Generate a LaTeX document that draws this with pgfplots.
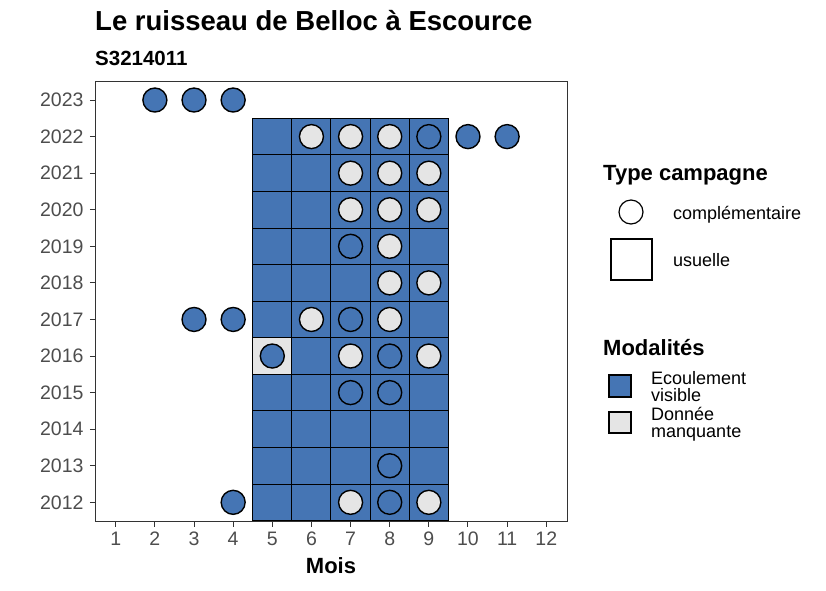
\documentclass[border=0pt]{standalone}
\usepackage{fontspec}
\setmainfont{Liberation Sans}
\usepackage{pgfplots}
\pgfplotsset{compat=1.18}
\definecolor{eblue}{HTML}{4575B4}
\definecolor{egrey}{HTML}{E5E5E5}
\definecolor{g20}{HTML}{333333}
\definecolor{g30}{HTML}{4D4D4D}
\begin{document}
\begin{tikzpicture}[x=1pt,y=1pt]
\path[use as bounding box] (0,0) rectangle (826,-590);
\begin{axis}[at={(95pt,-521.7pt)}, anchor=south west, scale only axis,
  width=472pt, height=440.7pt,
  xmin=0.47, xmax=12.53, ymin=2011.47, ymax=2023.52,
  xtick={1,...,12}, ytick={2012,...,2023},
  /pgf/number format/1000 sep={}, /pgf/number format/assume math mode=true,
  tick align=outside, tick pos=left, major tick length=5pt,
  tick style={g20, line width=1pt},
  axis line style={g20, line width=0.8pt},
  ticklabel style={font=\fontsize{19.5}{19.5}\selectfont, text=g30},
  xticklabel style={yshift=-2pt},
  yticklabel style={xshift=-3pt},
  clip=false]
% usual campaigns: Ecoulement visible
\addplot[only marks, mark=square*, mark size=19.575pt,
  mark options={yscale=0.934, fill=eblue, draw=black, line width=1pt}] table {
x y
5 2012
6 2012
7 2012
8 2012
9 2012
5 2013
6 2013
7 2013
8 2013
9 2013
5 2014
6 2014
7 2014
8 2014
9 2014
5 2015
6 2015
7 2015
8 2015
9 2015
6 2016
7 2016
8 2016
9 2016
5 2017
6 2017
7 2017
8 2017
9 2017
5 2018
6 2018
7 2018
8 2018
9 2018
5 2019
6 2019
7 2019
8 2019
9 2019
5 2020
6 2020
7 2020
8 2020
9 2020
5 2021
6 2021
7 2021
8 2021
9 2021
5 2022
6 2022
7 2022
8 2022
9 2022
};
% usual campaigns: Donnee manquante
\addplot[only marks, mark=square*, mark size=19.575pt,
  mark options={yscale=0.934, fill=egrey, draw=black, line width=1pt}] table {
x y
5 2016
};
% complementary campaigns: Ecoulement visible
\addplot[only marks, mark=*, mark size=12pt,
  mark options={fill=eblue, draw=black, line width=1.4pt}] table {
x y
2 2023
3 2023
4 2023
9 2022
10 2022
11 2022
7 2019
3 2017
4 2017
7 2017
5 2016
8 2016
7 2015
8 2015
8 2013
4 2012
8 2012
};
% complementary campaigns: Donnee manquante
\addplot[only marks, mark=*, mark size=12pt,
  mark options={fill=egrey, draw=black, line width=1.4pt}] table {
x y
6 2022
7 2022
8 2022
7 2021
8 2021
9 2021
7 2020
8 2020
9 2020
8 2019
8 2018
9 2018
6 2017
8 2017
7 2016
9 2016
7 2012
9 2012
};
\end{axis}
% titles
\node[anchor=base west, inner sep=0] at (95,-30) {\fontsize{27.5}{27.5}\selectfont\bfseries Le ruisseau de Belloc à Escource};
\node[anchor=base west, inner sep=0] at (95,-65) {\fontsize{20.5}{20.5}\selectfont\bfseries S3214011};
\node[anchor=base, inner sep=0] at (331,-573) {\fontsize{22}{22}\selectfont\bfseries Mois};
% legend 1
\node[anchor=base west, inner sep=0] at (603,-180) {\fontsize{22}{22}\selectfont\bfseries Type campagne};
\draw[black, line width=1.2pt, fill=white] (631,-212) circle (12);
\node[anchor=base west, inner sep=0] at (673,-219) {\fontsize{18}{18}\selectfont complémentaire};
\draw[black, line width=1.1pt, fill=white] (611,-239) rectangle (652,-280);
\node[anchor=base west, inner sep=0] at (673,-266) {\fontsize{18}{18}\selectfont usuelle};
% legend 2
\node[anchor=base west, inner sep=0] at (603,-355) {\fontsize{22}{22}\selectfont\bfseries Modalités};
\draw[black, line width=1.1pt, fill=eblue] (609,-375) rectangle (631,-397);
\draw[black, line width=1.1pt, fill=egrey] (609,-412) rectangle (631,-433);
\node[anchor=base west, inner sep=0] at (651,-384) {\fontsize{18}{18}\selectfont Ecoulement};
\node[anchor=base west, inner sep=0] at (651,-401) {\fontsize{18}{18}\selectfont visible};
\node[anchor=base west, inner sep=0] at (651,-420) {\fontsize{18}{18}\selectfont Donnée};
\node[anchor=base west, inner sep=0] at (651,-437) {\fontsize{18}{18}\selectfont manquante};
\end{tikzpicture}
\end{document}
